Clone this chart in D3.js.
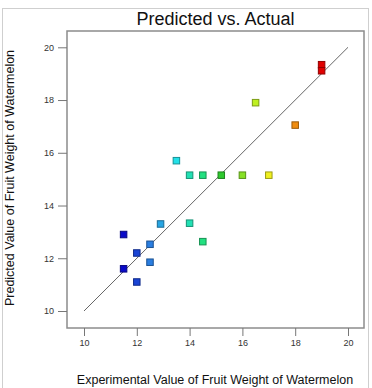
<!DOCTYPE html>
<html><head><meta charset="utf-8">
<script src="https://cdn.jsdelivr.net/npm/d3@7"></script>
<style>html,body{margin:0;padding:0;background:#fff;}svg{display:block;}</style>
</head><body>
<svg id="c" width="372" height="388"></svg>
<script>
const title = "Predicted vs. Actual";
const xLabel = "Experimental Value of Fruit Weight of Watermelon";
const yLabel = "Predicted Value of Fruit Weight of Watermelon";
const actual =    [11.5, 11.5, 12, 12, 12.5, 12.5, 12.9, 13.5, 14, 14, 14.5, 14.5, 15.2, 16, 16.5, 17, 18, 19, 19];
const predicted = [12.9, 11.6, 12.2, 11.1, 12.53, 11.85, 13.3, 15.7, 15.15, 13.33, 15.15, 12.63, 15.15, 15.15, 17.9, 15.15, 17.05, 19.34, 19.11];
const xTicks = [10, 12, 14, 16, 18, 20];
const yTicks = [10, 12, 14, 16, 18, 20];
const colorStops = [11.5, 12.5, 13.5, 14.5, 15.2, 16.5, 17, 18, 19];
const colorRange = ["#0a0ac8", "#2a7ee0", "#22e0e8", "#22e080", "#2ec82e", "#bef020", "#f0f020", "#f08c10", "#e00000"];

(function () {
const svg = d3.select("#c");
const pL = 67, pR = 364, pT = 31, pB = 328;
const x = d3.scaleLinear().domain([10, 20]).range([84, 348]);
const y = d3.scaleLinear().domain([10, 20]).range([311, 47.3]);
const color = d3.scaleLinear().domain(colorStops).range(colorRange).clamp(true);
const font = "Liberation Sans, Arial, sans-serif";

// outer frame
svg.append("rect").attr("x", 2.5).attr("y", 8.5).attr("width", 366).attr("height", 390)
  .attr("fill", "none").attr("stroke", "#cfcfcf").attr("stroke-width", 1);

// title
svg.append("text").attr("x", 215.5).attr("y", 25).attr("text-anchor", "middle")
  .attr("font-family", font).attr("font-size", 18).attr("fill", "#111")
  .text(title);

// plot box
svg.append("rect").attr("x", pL).attr("y", pT).attr("width", pR - pL).attr("height", pB - pT)
  .attr("fill", "#fff").attr("stroke", "#8c8c8c").attr("stroke-width", 1.5);

// axes
const xAxis = d3.axisBottom(x).tickValues(xTicks).tickSize(8).tickPadding(4);
const gx = svg.append("g").attr("transform", `translate(0,${pB})`).call(xAxis);
gx.select(".domain").remove();
const yAxis = d3.axisLeft(y).tickValues(yTicks).tickSize(9).tickPadding(4);
const gy = svg.append("g").attr("transform", `translate(${pL},0)`).call(yAxis);
gy.select(".domain").remove();
svg.selectAll(".tick line").attr("stroke", "#777");
svg.selectAll(".tick text").attr("font-family", font).attr("font-size", 9).attr("fill", "#333");

// axis labels
svg.append("text").attr("x", 215).attr("y", 384).attr("text-anchor", "middle")
  .attr("font-family", font).attr("font-size", 12.5).attr("fill", "#111")
  .text(xLabel);
svg.append("text").attr("transform", "translate(14,178) rotate(-90)").attr("text-anchor", "middle")
  .attr("font-family", font).attr("font-size", 12.5).attr("fill", "#111")
  .text(yLabel);

// diagonal
svg.append("line").attr("x1", x(10)).attr("y1", y(10)).attr("x2", x(20)).attr("y2", y(20))
  .attr("stroke", "#666").attr("stroke-width", 1);

// points
const data = actual.map((a, i) => ({a, p: predicted[i]}));
const s = 6.5;
svg.append("g").selectAll("rect").data(data).join("rect")
  .attr("x", d => x(d.a) - s / 2).attr("y", d => y(d.p) - s / 2)
  .attr("width", s).attr("height", s)
  .attr("fill", d => color(d.a))
  .attr("stroke", d => d3.color(color(d.a)).darker(1.2))
  .attr("stroke-width", 1);
})();
</script>
</body></html>
